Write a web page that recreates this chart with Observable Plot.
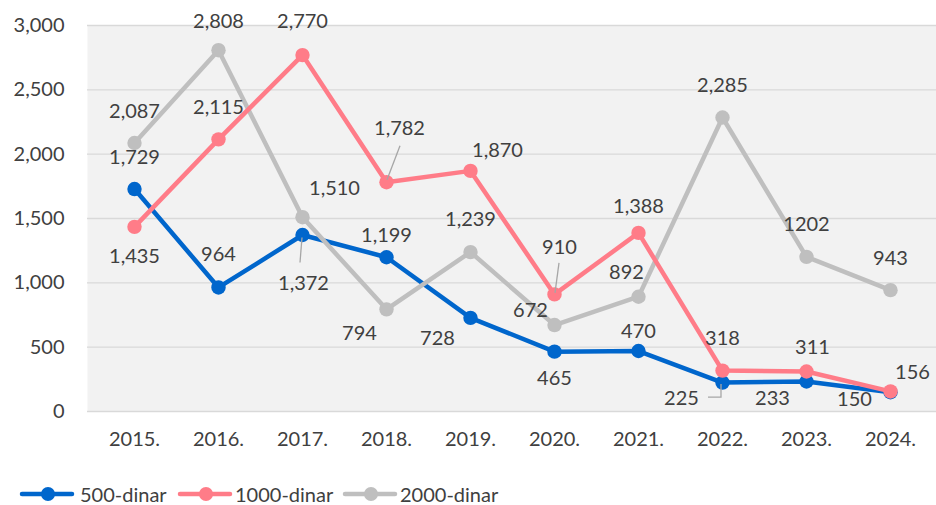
<!DOCTYPE html>
<html>
<head>
<meta charset="utf-8">
<script src="https://cdn.jsdelivr.net/npm/d3@7"></script>
<script src="https://cdn.jsdelivr.net/npm/@observablehq/plot@0.6"></script>
<style>
  body { margin: 0; background: #ffffff; font-family: Lato, "Open Sans", sans-serif; }
  #chart { position: relative; width: 936px; height: 505px; overflow: hidden; }
  #chart svg.plot { position: absolute; left: 0; top: 0; }
  .legend-swatch { position: absolute; top: 486px; }
  .legend-text { position: absolute; top: 482px; height: 24px; line-height: 24px; font-size: 20px; color: #404040; white-space: nowrap; }
</style>
</head>
<body>
<div id="chart"></div>
<script>
// ---- data ----
const years = ["2015", "2016", "2017", "2018", "2019", "2020", "2021", "2022", "2023", "2024"];
const yearLabels = ["2015.", "2016.", "2017.", "2018.", "2019.", "2020.", "2021.", "2022.", "2023.", "2024."];
const seriesNames = ["500-dinar", "1000-dinar", "2000-dinar"];
const values500 = [1729, 964, 1372, 1199, 728, 465, 470, 225, 233, 150];
const values1000 = [1435, 2115, 2770, 1782, 1870, 910, 1388, 318, 311, 156];
const values2000 = [2087, 2808, 1510, 794, 1239, 672, 892, 2285, 1202, 943];
const labels500 = ["1,729", "964", "1,372", "1,199", "728", "465", "470", "225", "233", "150"];
const labels1000 = ["1,435", "2,115", "2,770", "1,782", "1,870", "910", "1,388", "318", "311", "156"];
const labels2000 = ["2,087", "2,808", "1,510", "794", "1,239", "672", "892", "2,285", "1202", "943"];
const yTicks = [0, 500, 1000, 1500, 2000, 2500, 3000];

// ---- layout (label offsets in px, relative to each point) ----
const offs500 = [[0,-31],[0,-33],[1,49],[0,-22],[-33,21],[0,27],[0,-19],[-41,16],[-34,17],[-36,7]];
const offs1000 = [[0,30],[0,-32],[0,-33],[13,-54],[27,-20],[5,-47],[0,-26],[0,-32],[6,-24],[22,-19]];
const offs2000 = [[0,-31],[0,-29],[32,-29],[-27,24],[0,-32],[-24,-14],[-12,-24],[0,-32],[0,-32],[0,-32]];
// leader lines: [series index, point index, polyline offsets]
const leaders = [
  [0, 2, [[-2, 28], [0, 3]]],
  [1, 3, [[14, -36], [1, -2]]],
  [1, 5, [[5, -31], [1, -1]]],
  [0, 7, [[-14, 15], [-1, 15], [-1, 2]]]
];

const colors = ["#0066cc", "#ff7c88", "#bfbfbf"];
const allValues = [values500, values1000, values2000];
const allLabels = [labels500, labels1000, labels2000];
const allOffs = [offs500, offs1000, offs2000];

const tables = allValues.map((vals, s) => years.map((year, i) => ({
  year, value: vals[i], label: allLabels[s][i], series: seriesNames[s]
})));

const drawOrder = [0, 2, 1]; // blue, gray, pink on top
const marks = [Plot.frame({fill: "#f2f2f2", stroke: null}),
  Plot.gridY(yTicks, {stroke: "#d9d9d9", strokeOpacity: 1, strokeWidth: 1.4})];

for (const s of drawOrder) {
  marks.push(Plot.line(tables[s], {x: "year", y: "value", stroke: colors[s], strokeWidth: 4.5, strokeLinejoin: "round", strokeLinecap: "round"}));
  marks.push(Plot.dot(tables[s], {x: "year", y: "value", r: 7.2, fill: colors[s], stroke: null}));
}

// leader lines
marks.push(function (index, scales) {
  const g = d3.create("svg:g");
  for (const [s, i, pts] of leaders) {
    const px = scales.x(years[i]);
    const py = scales.y(allValues[s][i]);
    g.append("path")
      .attr("d", "M" + pts.map(([dx, dy]) => (px + dx) + "," + (py + dy)).join("L"))
      .attr("fill", "none")
      .attr("stroke", "#a6a6a6")
      .attr("stroke-width", 1.3);
  }
  return g.node();
});

for (const s of [0, 1, 2]) {
  tables[s].forEach((d, i) => {
    marks.push(Plot.text([d], {x: "year", y: "value", text: "label", dx: allOffs[s][i][0], dy: allOffs[s][i][1],
      fill: "#404040", fontSize: 20}));
  });
}

const chart = Plot.plot({
  width: 936,
  height: 465,
  marginLeft: 87,
  marginRight: 0,
  marginTop: 25,
  marginBottom: 54,
  style: {fontFamily: "Lato, 'Open Sans', sans-serif", fontSize: "20px", color: "#404040", background: "transparent", overflow: "visible"},
  x: {type: "point", domain: years, padding: 0.5, align: 0.5, label: null, tickSize: 0, tickPadding: 20,
      tickFormat: (d) => yearLabels[years.indexOf(d)]},
  y: {domain: [0, 3000], ticks: yTicks, tickFormat: d3.format(","), label: null, tickSize: 0, tickPadding: 23},
  marks
});
chart.classList.add("plot");
const root = document.getElementById("chart");
root.appendChild(chart);

// legend
const swatchLeft = [19, 177, 342];
const textLeft = [80, 235, 400];
seriesNames.forEach((name, s) => {
  const sw = document.createElement("div");
  sw.className = "legend-swatch";
  sw.style.left = swatchLeft[s] + "px";
  sw.innerHTML = `<svg width="56" height="16"><line x1="3" y1="8" x2="53" y2="8" stroke="${colors[s]}" stroke-width="4.5" stroke-linecap="round"/><circle cx="29" cy="8" r="7" fill="${colors[s]}"/></svg>`;
  root.appendChild(sw);
  const tx = document.createElement("div");
  tx.className = "legend-text";
  tx.style.left = textLeft[s] + "px";
  tx.textContent = name;
  root.appendChild(tx);
});
</script>
</body>
</html>
